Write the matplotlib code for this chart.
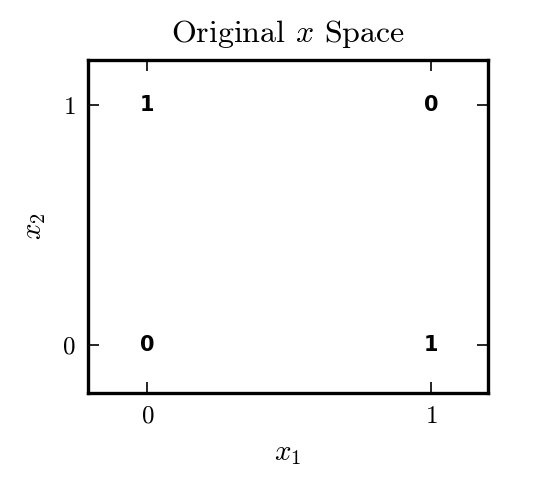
import matplotlib
matplotlib.use('Agg')
import matplotlib.pyplot as plt

# XOR points in original space
x1 = [0, 0, 1, 1]
x2 = [0, 1, 0, 1]
labels = ['0', '1', '1', '0']

plt.rcParams['font.family'] = 'serif'
plt.rcParams['font.serif'] = ['cmr10']
plt.rcParams['mathtext.fontset'] = 'cm'
plt.rcParams['axes.formatter.use_mathtext'] = True

fig = plt.figure(figsize=(5.52, 4.86), dpi=100)
ax = fig.add_axes([0.159, 0.191, 0.725, 0.686])

for x, y, lab in zip(x1, x2, labels):
    ax.text(x, y, lab, ha='center', va='center', fontsize=15,
            fontweight='heavy', family='DejaVu Sans')

ax.set_xlim(-0.21, 1.2)
ax.set_ylim(-0.2, 1.19)
ax.set_xticks([0, 1])
ax.set_yticks([0, 1])
ax.tick_params(direction='in', top=True, right=True, length=8, width=1.2,
               labelsize=18, pad=9)
for s in ax.spines.values():
    s.set_linewidth(2.4)

ax.set_title('Original $x$ Space', fontsize=23, pad=13)
ax.set_xlabel('$x_1$', fontsize=21, labelpad=9)
ax.set_ylabel('$x_2$', fontsize=21, labelpad=10)

fig.savefig('out.png', dpi=100)
